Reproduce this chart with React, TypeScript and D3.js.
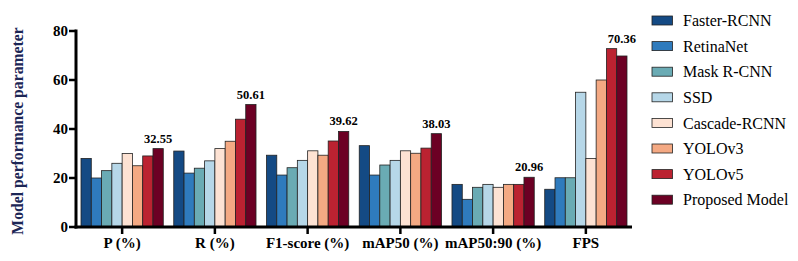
import React from "react";
import * as d3 from "d3";

const categories = ["P (%)", "R (%)", "F1-score (%)", "mAP50 (%)", "mAP50:90 (%)", "FPS"];
const models = ["Faster-RCNN", "RetinaNet", "Mask R-CNN", "SSD", "Cascade-RCNN", "YOLOv3", "YOLOv5", "Proposed Model"];
const colors = ["#144a84", "#2f7bbd", "#6aabb4", "#b6d7e8", "#fde2d3", "#f4a983", "#bb2231", "#6c0024"];

// one array per model, values in category order
const fasterRcnn = [28, 31, 29.3, 33.2, 17.4, 15.4];
const retinaNet = [20, 22, 21.2, 21.2, 11.3, 20.1];
const maskRcnn = [23, 24, 24.2, 25.3, 16.2, 20.1];
const ssd = [26, 27, 27.2, 27.2, 17.4, 55];
const cascadeRcnn = [30, 32, 31.1, 31.1, 16.2, 28];
const yolov3 = [25, 35, 29.3, 30.1, 17.4, 60];
const yolov5 = [29, 44, 35.1, 32.2, 17.4, 72.8];
const proposed = [32, 50, 39, 38.1, 20.3, 69.8];
const proposedLabels = ["32.55", "50.61", "39.62", "38.03", "20.96", "70.36"];
const yTicks = [0, 20, 40, 60, 80];

const series = [fasterRcnn, retinaNet, maskRcnn, ssd, cascadeRcnn, yolov3, yolov5, proposed];

const W = 798;
const H = 261;
const left = 76;
const right = 632;
const top = 31;
const bottom = 227;

export default function App() {
  const x = d3.scaleBand().domain(categories).range([left, right]).paddingInner(0.113).paddingOuter(0.054);
  const xi = d3.scaleBand().domain(models).range([0, x.bandwidth()]);
  const y = d3.scaleLinear().domain([0, 80]).range([bottom, top]);

  const serif = "'Liberation Serif', 'Times New Roman', serif";

  return (
    <svg width={W} height={H} style={{ position: "absolute", left: 0, top: 0, background: "#fff" }} fontFamily={serif}>
      {/* bars */}
      {categories.map((c, ci) => (
        <g key={c} transform={`translate(${x(c)},0)`}>
          {models.map((m, mi) => (
            <rect
              key={m}
              x={xi(m)}
              y={y(series[mi][ci])}
              width={xi.bandwidth()}
              height={y(0) - y(series[mi][ci])}
              fill={colors[mi]}
              stroke="#222"
              strokeWidth={0.8}
            />
          ))}
          <text
            x={xi(models[7])! + xi.bandwidth() / 2}
            y={y(d3.max(series, (s) => s[ci])!) - 6}
            textAnchor="middle"
            fontWeight="bold"
            fontSize={12.5}
          >
            {proposedLabels[ci]}
          </text>
        </g>
      ))}

      {/* y axis */}
      <line x1={left} x2={left} y1={top - 1.5} y2={bottom + 1.5} stroke="#000" strokeWidth={3} />
      {yTicks.map((t) => (
        <g key={t}>
          <line x1={left - 7} x2={left} y1={y(t)} y2={y(t)} stroke="#000" strokeWidth={2.5} />
          <text x={left - 8} y={y(t)} dy="0.35em" textAnchor="end" fontWeight="bold" fontSize={15}>
            {t}
          </text>
        </g>
      ))}
      <text
        transform={`translate(17,${(top + bottom) / 2 + 2}) rotate(-90)`}
        textAnchor="middle"
        dy="0.35em"
        fontWeight="bold"
        fontSize={15.7}
        fill="#1c2656"
      >
        Model performance parameter
      </text>

      {/* x axis */}
      <line x1={left - 1.5} x2={right} y1={bottom} y2={bottom} stroke="#000" strokeWidth={3} />
      {categories.map((c) => (
        <g key={c}>
          <line x1={x(c)! + x.bandwidth() / 2} x2={x(c)! + x.bandwidth() / 2} y1={bottom} y2={bottom + 7} stroke="#000" strokeWidth={2.5} />
          <text x={x(c)! + x.bandwidth() / 2} y={bottom + 21} textAnchor="middle" fontWeight="bold" fontSize={15}>
            {c}
          </text>
        </g>
      ))}

      {/* legend */}
      {models.map((m, i) => (
        <g key={m} transform={`translate(652,${20.5 + i * 25.6})`}>
          <rect x={0} y={-4.5} width={20.5} height={9} fill={colors[i]} stroke="#222" strokeWidth={0.8} />
          <text x={31} y={0} dy="0.35em" fontSize={16}>
            {m}
          </text>
        </g>
      ))}
    </svg>
  );
}
